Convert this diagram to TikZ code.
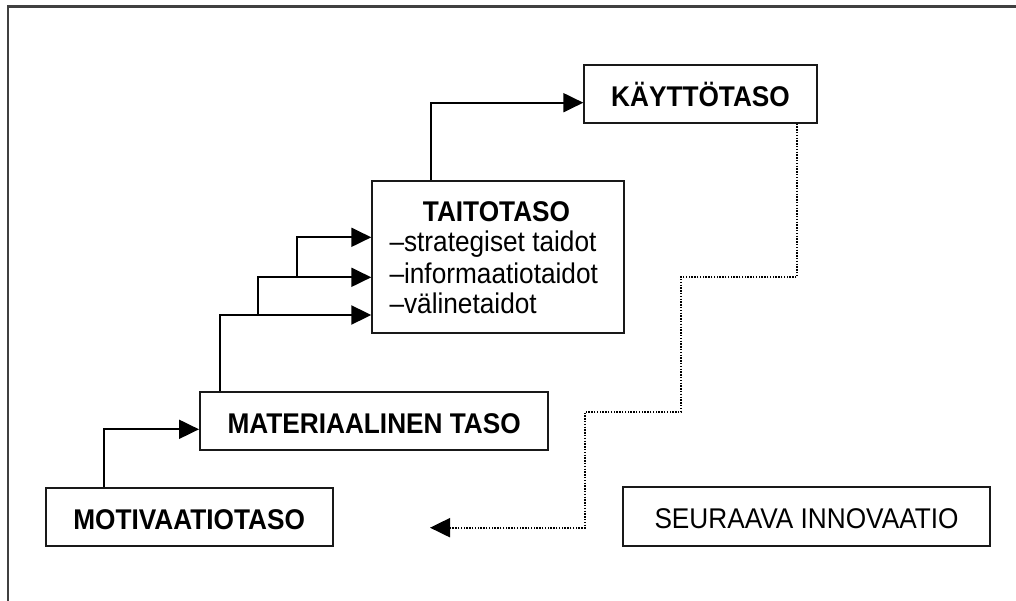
\documentclass[tikz,border=0pt]{standalone}
\usepackage{fontspec}
\setmainfont{Liberation Sans}[FakeStretch=0.92]
\usetikzlibrary{arrows.meta}
\begin{document}
\begin{tikzpicture}[x=1pt,y=-1pt,
  box/.style={draw=black!90,line width=2pt,rectangle,inner sep=0pt,
    text height=24.6pt,text depth=0pt,font=\fontsize{28.5}{31}\selectfont},
  bbox/.style={box,font=\fontsize{28.5}{31}\selectfont\bfseries},
  arr/.style={draw=black,line width=2pt,-{Triangle[length=20pt,width=19pt]}},
  dotarr/.style={draw=black,line width=2pt,dash pattern=on 1.4pt off 1.4pt,
    -{Triangle[length=20pt,width=19pt]}},
  txt/.style={inner sep=0pt,font=\fontsize{28.5}{31}\selectfont}
]
\useasboundingbox (0,0) rectangle (1016,601);
% outer frame (only top and left edges visible)
\draw[black!75,line width=2.5pt] (8,610) -- (8,6.5) -- (1025,6.5);

\node[bbox,minimum width=286.8pt,minimum height=58.3pt] (motiv) at (189.1,516.85) {MOTIVAATIOTASO};
\node[bbox,minimum width=348.3pt,minimum height=58.3pt] (mater) at (374.15,420.85) {MATERIAALINEN TASO};
\node[box,minimum width=251.2pt,minimum height=152.3pt] (taito) at (497.9,257.15) {};
\node[bbox,minimum width=232.4pt,minimum height=57.7pt] (kaytto) at (700.5,93.85) {KÄYTTÖTASO};
\node[box,minimum width=367pt,minimum height=59pt] (seur) at (806.5,516.5) {SEURAAVA INNOVAATIO};

\node[txt,font=\fontsize{28.5}{31}\selectfont\bfseries,anchor=base] (tt) at (496.5,221.7) {TAITOTASO};
\node[txt,anchor=base west] (l1) at (389.3,251.7) {–strategiset taidot};
\node[txt,anchor=base west] (l2) at (389.3,283.3) {–informaatiotaidot};
\node[txt,anchor=base west] (l3) at (389.3,313.3) {–välinetaidot};

\coordinate (b1) at (104,429.3);
\coordinate (t1) at (220,315);
\coordinate (t2) at (258.3,277.3);
\coordinate (t3) at (296.7,237.3);
\coordinate (k1) at (430.7,102.7);
\coordinate (d1) at (797.3,276.7);
\coordinate (d2) at (681,411.7);
\coordinate (d3) at (585,527.7);
\coordinate (dend) at (430,527.7);

\draw[arr] (motiv.north -| b1) |- (mater.west |- b1);
\draw[arr] (mater.north -| t1) |- (taito.west |- t1);
\draw[arr] (t2 |- t1) |- (taito.west |- t2);
\draw[arr] (t3 |- t2) |- (taito.west |- t3);
\draw[arr] (taito.north -| k1) |- (kaytto.west |- k1);
\draw[dotarr] (kaytto.south -| d1) -- (d1) -| (d2) -| (d3) -- (dend);
\end{tikzpicture}
\end{document}
